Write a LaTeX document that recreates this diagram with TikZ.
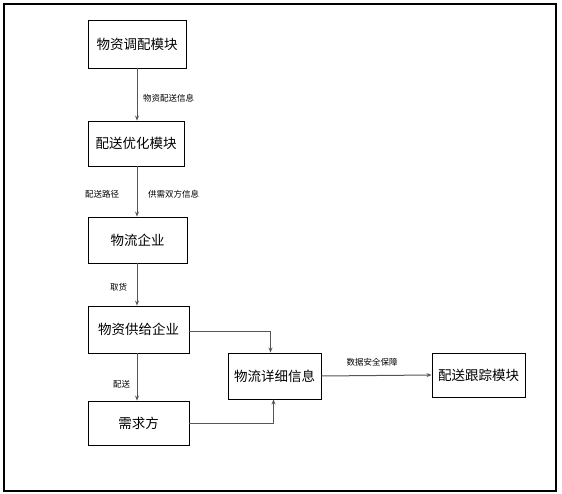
\documentclass[tikz,border=0pt]{standalone}
\usepackage{fontspec}
\setmainfont{Noto Sans CJK SC}
\usepackage{tikz}
\usetikzlibrary{arrows.meta,calc,positioning}
\definecolor{LineGray}{HTML}{555555}

\tikzset{
  modbox/.style={draw=black,line width=0.9pt,fill=white,inner sep=0pt,
    font=\fontsize{13.5}{15}\selectfont},
  flowlbl/.style={font=\fontsize{8.5}{10}\selectfont,inner sep=0pt},
  flow/.style={draw=LineGray,line width=1pt,-{Stealth[length=5pt,width=4pt]}}
}

\begin{document}
\begin{tikzpicture}[x=1pt,y=-1pt]
        \useasboundingbox (0,0) rectangle (562,494);
        \draw[line width=1.4pt] (4,4) rectangle (556,491);

        % modules on the left column
        \node[modbox,minimum width=98,minimum height=48] (dispatch) at (137,44) {物资调配模块};
        \node[modbox,minimum width=96,minimum height=45] (optimize) at (136,143.5) {配送优化模块};
        \node[modbox,minimum width=99,minimum height=46] (logistics) at (137.5,240) {物流企业};
        \node[modbox,minimum width=101,minimum height=47] (supply) at (138.5,329.5) {物资供给企业};
        \node[modbox,minimum width=101,minimum height=44] (demand) at (138.5,423) {需求方};
        \node[modbox,minimum width=93,minimum height=46] (detail) at (274.5,376) {物流详细信息};
        \node[modbox,minimum width=93,minimum height=44] (track) at (478.5,375) {配送跟踪模块};

        % labels
        \node[flowlbl,anchor=west] (lblinfo) at (143,98) {物资配送信息};
        \node[flowlbl,anchor=west] (lblroute) at (85,194) {配送路径};
        \node[flowlbl,anchor=west] (lblboth) at (148,194) {供需双方信息};
        \node[flowlbl,anchor=west] (lblpick) at (110,287) {取货};
        \node[flowlbl,anchor=west] (lbldeliv) at (113,384) {配送};
        \node[flowlbl] (lblsafe) at (372,362) {数据安全保障};

        % connectors
        \coordinate (col) at (137,0);
        \draw[flow] (col |- dispatch.south) -- (col |- optimize.north);
        \draw[flow] (col |- optimize.south) -- (col |- logistics.north);
        \draw[flow] (col |- logistics.south) -- (col |- supply.north);
        \draw[flow] (col |- supply.south) -- (col |- demand.north);
        \draw[flow] ([yshift=-2]supply.east) -| ([xshift=-4]detail.north);
        \draw[flow] (demand.east) -| ([xshift=-1]detail.south);
        \draw[flow] (detail.east) -- (track.west);
      \end{tikzpicture}
\end{document}
